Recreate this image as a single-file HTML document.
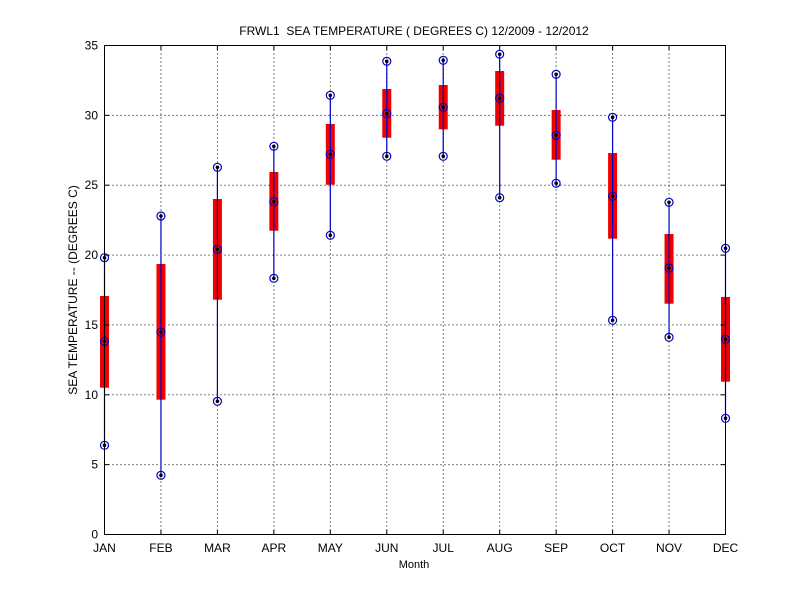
<!DOCTYPE html>
<html><head><meta charset="utf-8"><style>body{margin:0;background:#fff}svg{display:block}text{font-family:"Liberation Sans",sans-serif;fill:#000}</style></head><body>
<svg width="800" height="600" viewBox="0 0 800 600" xmlns="http://www.w3.org/2000/svg">
<rect width="800" height="600" fill="#fff"/>
<g id="grid" stroke="#000" stroke-width="1" stroke-dasharray="1,3" fill="none"></g>
<g id="data"></g>
<rect x="104.5" y="45.5" width="621" height="489" fill="none" stroke="#000"/>
<g id="ticks" stroke="#000"></g>
<g id="labels" font-size="12"></g>
<text x="414" y="35" font-size="12" text-anchor="middle" style="white-space:pre">FRWL1  SEA TEMPERATURE ( DEGREES C) 12/2009 - 12/2012</text>
<text x="414" y="568" font-size="11" text-anchor="middle">Month</text>
<text transform="translate(77,290) rotate(-90)" font-size="12" text-anchor="middle">SEA TEMPERATURE -- (DEGREES C)</text>
<script>
var ns="http://www.w3.org/2000/svg";
function el(p,n,a,t){var e=document.createElementNS(ns,n);for(var k in a)e.setAttribute(k,a[k]);if(t)e.textContent=t;document.getElementById(p).appendChild(e);}
var L=104.5,R=725.5,T=45.5,B=534.5,dx=(R-L)/11;
var m=["JAN","FEB","MAR","APR","MAY","JUN","JUL","AUG","SEP","OCT","NOV","DEC"];
for(var i=0;i<12;i++){var x=L+i*dx;
 if(i>0&&i<11)el("grid","line",{x1:x,y1:T,x2:x,y2:B});
 el("ticks","line",{x1:x,y1:B,x2:x,y2:B-5});el("ticks","line",{x1:x,y1:T,x2:x,y2:T+5});
 el("labels","text",{x:x,y:552,"text-anchor":"middle"},m[i]);}
for(var v=0;v<=35;v+=5){var y=B-v*(B-T)/35;
 if(v>0&&v<35)el("grid","line",{x1:L,y1:y,x2:R,y2:y});
 el("ticks","line",{x1:L,y1:y,x2:L+5,y2:y});el("ticks","line",{x1:R,y1:y,x2:R-5,y2:y});
 el("labels","text",{x:98,y:y+4,"text-anchor":"end"},String(v));}
var d=[[257.7,341.3,445.3,296,387.7],[216,332.3,475.3,264,399.7],[167.3,249.3,401.3,199,299.7],[146.3,201.7,278.3,172,230.7],[95.3,154.3,235.3,124,184.7],[61.3,113.7,156.3,89,137.7],[60.3,107.3,156.3,85,129.3],[54.3,98.3,197.7,71,125.7],[74.3,135.3,183.3,110,159.7],[117.3,196.3,320.3,153,238.7],[202.3,268,337.3,234,303.7],[248.3,339.3,418.3,297,381.7]];
for(var i=0;i<12;i++){var x=L+i*dx,q=d[i];
 el("data","rect",{x:x-4.5,y:q[3],width:9,height:q[4]-q[3],fill:"#f00000"});
 el("data","line",{x1:x,y1:q[0],x2:x,y2:q[2],stroke:"#0000c0","stroke-width":1.2});
 [q[0],q[1],q[2]].forEach(function(y){
  el("data","circle",{cx:x,cy:y,r:4,fill:"none",stroke:"#0000c0","stroke-width":1.2});
  el("data","circle",{cx:x,cy:y,r:1.8,fill:"#000"});});}
</script>
</svg>
</body></html>
